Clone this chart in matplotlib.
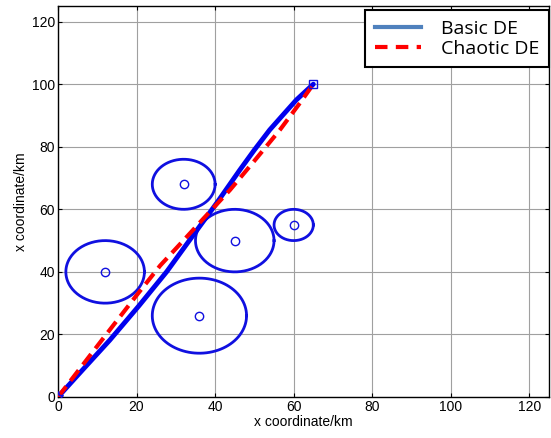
import numpy as np
import matplotlib.pyplot as plt
from matplotlib.lines import Line2D

plt.rcParams['font.family'] = ['Liberation Sans', 'DejaVu Sans']

# threat circles: centre x, centre y, radius (km)
threat_x = [12, 32, 45, 60, 36]
threat_y = [40, 68, 50, 55, 26]
threat_r = [10, 8, 10, 5, 12]

start = (0, 0)
goal = (65, 100)

basic_x = [0, 6.5, 13.2, 20.5, 27.7, 34, 40.4, 46.3, 50, 53.9, 57.5, 60.7, 65]
basic_y = [0, 9, 18.2, 29, 40.1, 51, 62, 72.6, 79, 85.4, 90.5, 95, 100]

chaotic_x = [0, 12.4, 20, 26, 31.9, 37, 43.8, 50, 56.5, 61.6, 65]
chaotic_y = [0, 20.2, 32.5, 42, 50, 57, 66.2, 75.5, 85.4, 94, 100]

fig = plt.figure(figsize=(5.51, 4.38), dpi=100)
ax = fig.add_axes([58/551, 41/438, 491/551, 391/438])

t = np.linspace(0, 2*np.pi, 200)
for cx, cy, r in zip(threat_x, threat_y, threat_r):
    ax.plot(cx + r*np.cos(t), cy + r*np.sin(t), color='#1010e0', lw=2)
    ax.plot(cx, cy, 'o', mfc='none', mec='#1010e0', ms=6, mew=1)

ax.plot(basic_x, basic_y, color='#0000ee', lw=3.5, zorder=3,
        solid_capstyle='round', solid_joinstyle='round')
ax.plot(chaotic_x, chaotic_y, color='red', lw=3, ls=(0, (3.2, 1.7)), zorder=4)
ax.plot(*start, marker='*', color='#1010e0', ms=8, mfc='none', zorder=5)
ax.plot(*goal, marker='s', color='#1010e0', ms=6, mfc='none', zorder=5)

ax.set_xlim(0, 125)
ax.set_ylim(0, 125)
ax.set_xticks(range(0, 121, 20))
ax.set_yticks(range(0, 121, 20))
ax.grid(True, color='#a0a0a0', lw=0.8)
ax.tick_params(direction='in', top=True, right=True, labelsize=10, length=3, pad=2)
for s in ax.spines.values():
    s.set_linewidth(1)
ax.set_xlabel('x coordinate/km', fontsize=10, labelpad=1)
ax.set_ylabel('x coordinate/km', fontsize=10, labelpad=3)

handles = [Line2D([], [], color='#4f81bd', lw=3),
           Line2D([], [], color='red', lw=3, ls=(0, (3, 2)))]
leg = ax.legend(handles, ['Basic DE', 'Chaotic DE'], loc='upper right',
                bbox_to_anchor=(1.0, 0.99), fancybox=False, framealpha=1,
                edgecolor='black', handlelength=2.4, borderpad=0.5,
                handletextpad=1.0, borderaxespad=0, labelspacing=0.1,
                prop={'family': 'Open Sans', 'size': 14})
leg.get_frame().set_linewidth(1.5)

fig.savefig('out.png', dpi=100)
